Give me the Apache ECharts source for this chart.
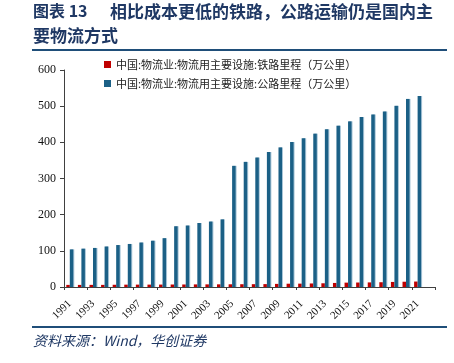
<!DOCTYPE html>
<html>
<head>
<meta charset="utf-8">
<script src="https://cdn.jsdelivr.net/npm/echarts@6/dist/echarts.min.js"></script>
<style>html,body{margin:0;padding:0;background:#fff;}#c{width:454px;height:363px;}</style>
</head>
<body>
<div id="c"></div>
<script>
var years = ['1991','1992','1993','1994','1995','1996','1997','1998','1999','2000','2001','2002','2003','2004','2005','2006','2007','2008','2009','2010','2011','2012','2013','2014','2015','2016','2017','2018','2019','2020','2021','2022'];
var railway = [5.8,5.8,5.9,5.9,6.2,6.5,6.6,6.6,6.7,6.9,7.0,7.2,7.3,7.4,7.5,7.7,7.8,8.0,8.6,9.1,9.3,9.8,10.3,11.2,12.1,12.4,12.7,13.2,14.0,14.6,15.1,null];
var highway = [104,106,108,112,116,119,123,128,135,168,170,177,181,187,335,346,358,373,386,401,411,424,436,446,458,470,477,485,501,520,528,null];
var seriesNames = ['中国:物流业:物流用主要设施:铁路里程（万公里）','中国:物流业:物流用主要设施:公路里程（万公里）'];
var titleLine1a = '图表 13';
var titleLine1b = '相比成本更低的铁路，公路运输仍是国内主';
var titleLine2 = '要物流方式';
var sourceText = '资料来源：Wind，华创证券';

var chart = echarts.init(document.getElementById('c'));
var navy = '#1f3864';
var serif = '"Liberation Serif", "DejaVu Serif", serif';
var cjk = '"Noto Sans CJK SC", sans-serif';
chart.setOption({
  animation: false,
  grid: {left: 64, right: 19, top: 70, bottom: 76, containLabel: false},
  legend: {
    left: 99, top: 54, orient: 'vertical', itemWidth: 7, itemHeight: 7, itemGap: 8,
    icon: 'rect',
    textStyle: {fontFamily: cjk, fontSize: 11, color: '#222'},
    data: seriesNames
  },
  xAxis: {
    type: 'category', data: years, boundaryGap: true,
    axisLine: {lineStyle: {color: '#404040', width: 1}},
    axisTick: {show: true, interval: 1, length: 3, lineStyle: {color: '#404040'}},
    axisLabel: {interval: 1, rotate: 45, fontFamily: serif, fontSize: 11, color: '#111', margin: 15,
      formatter: function (v, i) { return i < 31 ? v : ''; }}
  },
  yAxis: {
    type: 'value', min: 0, max: 600, interval: 100,
    axisLine: {show: true, lineStyle: {color: '#404040'}},
    axisTick: {show: true, length: 4, lineStyle: {color: '#404040'}},
    splitLine: {show: false},
    axisLabel: {fontFamily: serif, fontSize: 12, color: '#111', margin: 8}
  },
  series: [
    {name: seriesNames[0], type: 'bar', data: railway, barWidth: 3.5, barGap: '0%',
      itemStyle: {color: '#c00000'}},
    {name: seriesNames[1], type: 'bar', data: highway, barWidth: 3.5, barGap: '0%',
      itemStyle: {color: '#1b6086', shadowColor: '#a9c6d8', shadowOffsetX: 1, shadowBlur: 0}}
  ],
  graphic: [
    {type: 'text', left: 33, top: 3, style: {text: titleLine1a, fontFamily: cjk, fontWeight: 'bold', fontSize: 16, fill: navy}},
    {type: 'text', left: 110, top: 3, style: {text: titleLine1b, fontFamily: cjk, fontWeight: 'bold', fontSize: 17, fill: navy}},
    {type: 'text', left: 33, top: 27, style: {text: titleLine2, fontFamily: cjk, fontWeight: 'bold', fontSize: 17, fill: navy}},
    {type: 'rect', shape: {x: 32, y: 49, width: 415, height: 2}, style: {fill: '#1f4e79'}},
    {type: 'rect', shape: {x: 32, y: 326, width: 415, height: 2}, style: {fill: '#1f4e79'}},
    {type: 'text', left: 33, top: 334, style: {text: sourceText, fontFamily: cjk, fontStyle: 'italic', fontSize: 14, fill: navy}}
  ]
});
</script>
</body>
</html>
